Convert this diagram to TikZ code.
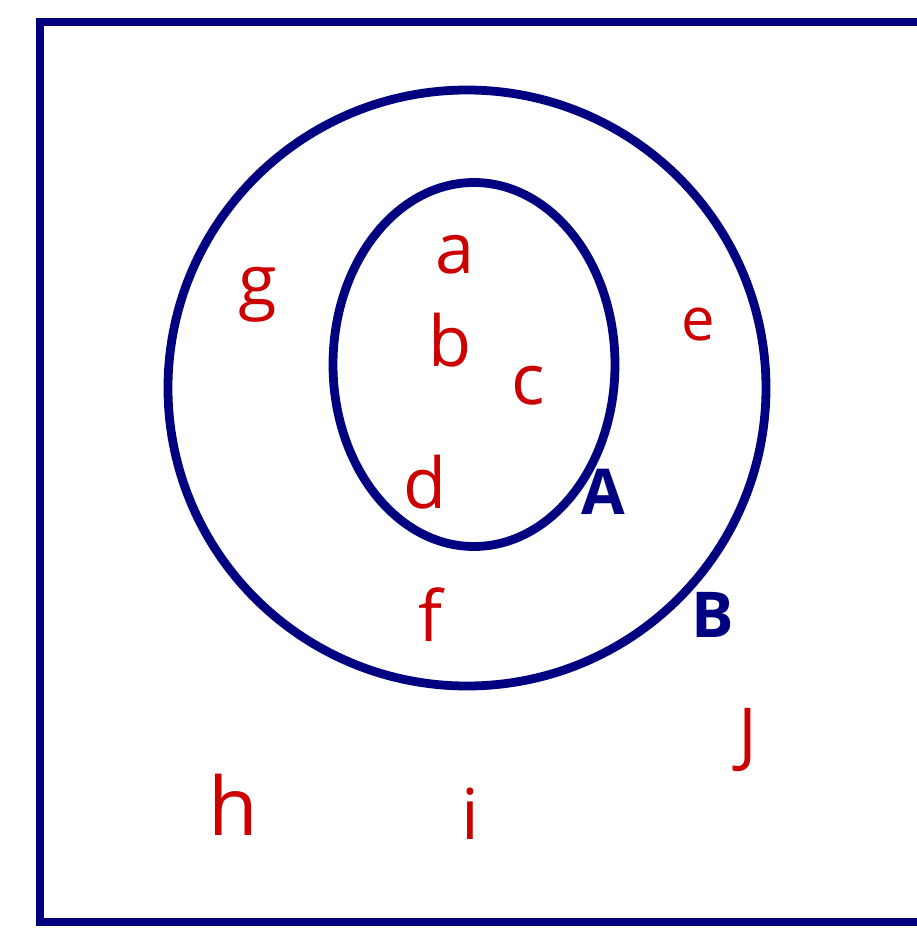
\documentclass[tikz,border=0pt]{standalone}
\usepackage{fontspec}
\setmainfont{Open Sans}
\definecolor{navy}{RGB}{0,0,128}
\definecolor{redink}{RGB}{204,0,0}
\begin{document}
\begin{tikzpicture}[x=0.02cm,y=-0.02cm,
  ink/.style={draw=navy,line width=5pt},
  elem/.style={text=redink,font=\fontsize{40}{44}\selectfont,inner sep=0pt},
  setlabel/.style={text=navy,font=\bfseries\fontsize{36}{40}\selectfont,inner sep=0pt}]
\useasboundingbox (0,0) rectangle (917,951);
\draw[ink] (960,22) -- (40,22) -- (40,922) -- (960,922);
\draw[ink] (467,388) ellipse [x radius=299,y radius=298];
\draw[ink] (474,364.5) ellipse [x radius=141,y radius=182];
\node[elem] (g) at (258,295) {g};
\node[elem] (a) at (455,255) {a};
\node[elem] (b) at (450,340) {b};
\node[elem] (c) at (528,386) {c};
\node[elem] (d) at (425,482) {d};
\node[elem,font=\fontsize{34}{38}\selectfont] (e) at (698,325) {e};
\node[elem] (f) at (430,615) {f};
\node[setlabel] (A) at (603,492) {A};
\node[setlabel] (B) at (713,615) {B};
\node[elem] (J) at (748,740) {J};
\node[elem,font=\fontsize{46}{50}\selectfont] (h) at (233,805) {h};
\node[elem] (i) at (470,814) {i};
\end{tikzpicture}
\end{document}
